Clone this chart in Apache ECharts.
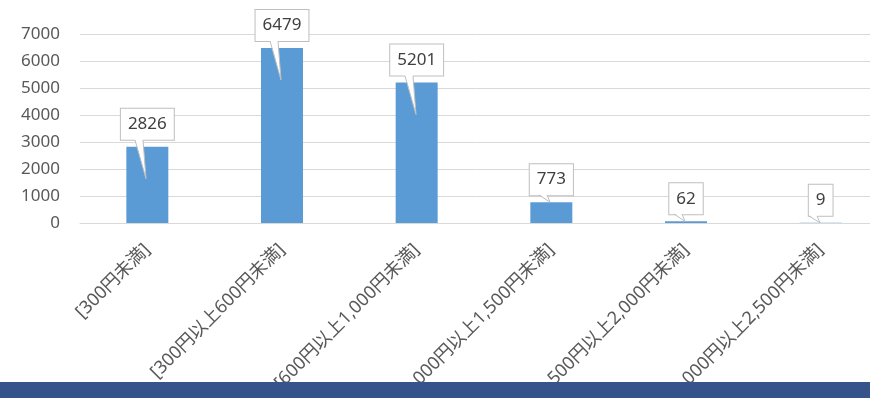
<!DOCTYPE html>
<html>
<head>
<meta charset="utf-8">
<script src="https://cdn.jsdelivr.net/npm/echarts@6/dist/echarts.min.js"></script>
<style>
  html, body { margin: 0; padding: 0; background: #fff; }
  #chart { width: 870px; height: 398px; }
</style>
</head>
<body>
<div id="chart"></div>
<script>
// Price bands (category axis)
const categories = [
  '[300円未満]',
  '[300円以上600円未満]',
  '[600円以上1,000円未満]',
  '[1,000円以上1,500円未満]',
  '[1,500円以上2,000円未満]',
  '[2,000円以上2,500円未満]'
];
// Count per price band
const counts = [2826, 6479, 5201, 773, 62, 9];
// Value axis ticks
const yTicks = [0, 1000, 2000, 3000, 4000, 5000, 6000, 7000];

const FONT = '"Noto Sans", "Noto Sans CJK JP", sans-serif';
const TEXT_GREY = '#595959';
const CALLOUT_BORDER = '#bfbfbf';
const LABEL_GAP = 7;

const chart = echarts.init(document.getElementById('chart'), null, { renderer: 'canvas' });

// Callout pointer below each value box, drawn from the bar's own coordinates
function renderPointer(params, api) {
  const idx = api.value(0);
  const val = api.value(1);
  const top = api.coord([idx, val]);
  const base = api.coord([idx, 0]);
  const cx = Math.round(top[0]);
  const by = Math.round(top[1] - LABEL_GAP) + 0.5;
  const barH = base[1] - top[1];
  const tipY = barH > 60 ? top[1] + 32 : top[1];
  return {
    type: 'group',
    children: [
      {
        type: 'polygon',
        shape: { points: [[cx - 12, by - 1.5], [cx - 1, tipY], [cx - 4, by - 1.5]] },
        style: { fill: '#fff', stroke: null }
      },
      {
        type: 'polyline',
        shape: { points: [[cx - 12, by - 0.5], [cx - 1, tipY], [cx - 4, by - 0.5]] },
        style: { fill: null, stroke: CALLOUT_BORDER, lineWidth: 1 }
      }
    ]
  };
}

chart.setOption({
  animation: false,
  backgroundColor: '#fff',
  textStyle: { fontFamily: FONT },
  // plot area runs slightly past the right edge of the canvas
  grid: {
    left: 80, top: 34, width: 808, height: 189,
    containLabel: false,
    outerBoundsMode: 'none'
  },
  xAxis: {
    type: 'category',
    data: categories,
    axisTick: { show: false },
    axisLine: { show: true, lineStyle: { color: '#d9d9d9', width: 1 } },
    axisLabel: {
      interval: 0,
      rotate: 45,
      margin: 24,
      color: TEXT_GREY,
      fontSize: 18,
      fontFamily: FONT
    }
  },
  yAxis: {
    type: 'value',
    min: yTicks[0],
    max: yTicks[yTicks.length - 1],
    interval: yTicks[1] - yTicks[0],
    axisLine: { show: false },
    axisTick: { show: false },
    splitLine: { lineStyle: { color: '#d9d9d9', width: 1 } },
    axisLabel: {
      margin: 20,
      color: TEXT_GREY,
      fontSize: 17,
      fontFamily: FONT,
      formatter: (v) => String(v)
    }
  },
  series: [
    {
      type: 'bar',
      data: counts,
      barWidth: 42,
      z: 2,
      itemStyle: { color: '#5b9bd5' },
      label: {
        show: true,
        position: 'top',
        distance: LABEL_GAP,
        formatter: '{c}',
        color: '#404040',
        fontSize: 17,
        lineHeight: 19,
        fontFamily: FONT,
        backgroundColor: '#fff',
        borderColor: CALLOUT_BORDER,
        borderWidth: 1,
        padding: [6, 7, 6, 7]
      }
    },
    {
      type: 'custom',
      z: 5,
      data: counts.map((v, i) => [i, v]),
      encode: { x: 0, y: 1 },
      renderItem: renderPointer,
      silent: true
    }
  ],
  graphic: [
    {
      type: 'rect',
      z: 100,
      left: 0,
      bottom: 0,
      shape: { width: 870, height: 16 },
      style: { fill: '#36538b' }
    }
  ]
});
</script>
</body>
</html>
